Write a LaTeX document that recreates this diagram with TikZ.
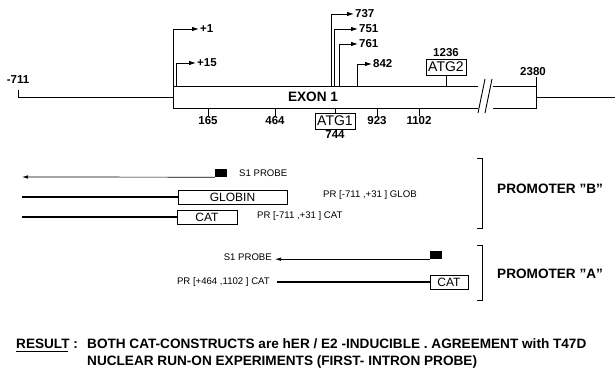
\documentclass[tikz,border=0pt]{standalone}
\usepackage{fontspec}
\setmainfont{Liberation Sans}
\usetikzlibrary{arrows.meta,positioning}

\begin{document}
\begin{tikzpicture}[
  x=1pt, y=-1pt,
  num/.style={font=\bfseries\fontsize{11.5}{12}\selectfont, inner sep=1pt},
  head/.style={font=\bfseries\fontsize{13.6}{14}\selectfont, inner sep=0pt, anchor=west},
  txt/.style={font=\fontsize{9.6}{10}\selectfont, inner sep=0pt},
  gene/.style={draw, line width=0.9pt, font=\fontsize{12}{12}\selectfont, inner sep=0pt, minimum height=14pt},
  atg/.style={gene, font=\fontsize{14}{14}\selectfont, minimum width=40pt, minimum height=16pt},
  probebox/.style={fill=black, minimum width=12pt, minimum height=8pt, inner sep=0pt},
  tss/.style={-{Latex[length=7pt,width=4.5pt]}, line width=0.9pt},
  probe/.style={-{Latex[length=6pt,width=3.5pt]}, line width=0.7pt},
  construct/.style={line width=2.8pt},
  tick/.style={line width=0.9pt}
]
\useasboundingbox (0,0) rectangle (615,371);

\coordinate (exontop) at (0,86);
\coordinate (exonbot) at (0,108);
\coordinate (start) at (18,97);
\coordinate (exonL) at (173,97);
\coordinate (exonR) at (536,97);
\coordinate (finish) at (615,97);

\node[num] (m711) at (18,80) {-711};
\draw[tick, shorten <=5pt] (m711.south) -- (start) -- (exonL);
\draw[tick] (173,86) -- (478,86) (173,108) -- (478,108) (173,86) -- (173,108);
\draw[tick] (493,86) -- (536,86) -- (536,108) -- (493,108);
\draw[tick] (478,113) -- (485,79) (485,113) -- (492,79);
\draw[tick] (exonR) -- (finish);
\node[head, anchor=center] (exon) at (313,97) {EXON 1};

\coordinate (t1) at (173,86);
\coordinate (t15) at (176,86);
\coordinate (t737) at (331,86);
\coordinate (t751) at (334,86);
\coordinate (t761) at (339,86);
\coordinate (t842) at (357,86);
\node[num, anchor=west] (p1) at (199,29) {+1};
\node[num, anchor=west] (p15) at (196,63) {+15};
\node[num, anchor=west] (p737) at (354,14) {737};
\node[num, anchor=west] (p751) at (358,29) {751};
\node[num, anchor=west] (p761) at (358,44) {761};
\node[num, anchor=west] (p842) at (372,64) {842};
\draw[tss] (t1) |- (p1);
\draw[tss] (t15) |- (p15);
\draw[tss] (t737) |- (p737);
\draw[tss] (t751) |- (p751);
\draw[tss] (t761) |- (p761);
\draw[tss] (t842) |- (p842);

\node[num] (n165) at (208,121) {165};
\node[num] (n464) at (275,121) {464};
\node[num] (n923) at (377,121) {923};
\node[num] (n1102) at (419,121) {1102};
\draw[tick] (n165.north |- exonbot) -- (n165.north);
\draw[tick] (n464.north |- exonbot) -- (n464.north);
\draw[tick] (n923.north |- exonbot) -- (n923.north);
\draw[tick] (n1102.north |- exonbot) -- (n1102.north);

\node[atg] (atg1) at (335,121) {ATG1};
\node[num, below=0pt of atg1] (n744) {744};
\draw[tick] (atg1.north |- exonbot) -- (atg1);
\node[atg] (atg2) at (446,67) {ATG2};
\node[num, above=1pt of atg2] (n1236) {1236};
\draw[tick] (atg2) -- (atg2.south |- exontop);
\node[num] (n2380) at (533,72) {2380};
\draw[tick] (exonR |- n2380.south) -- (exonR |- exontop);

\node[probebox] (probeB) at (221,173) {};
\node[txt, anchor=west] (s1B) at (239,173) {S1 PROBE};
\coordinate (endB) at (22,177);
\draw[probe] (probeB.south west) -- (endB);
\node[gene, minimum width=109pt] (globin) at (232.5,197) {GLOBIN};
\coordinate (startG) at (22,197);
\draw[construct] (startG) -- (globin);
\node[txt, anchor=west] (prglob) at (323,195) {PR [-711 ,+31 ] GLOB};
\node[gene, minimum width=60pt] (catB) at (207,217) {CAT};
\coordinate (startC) at (22,217);
\draw[construct] (startC) -- (catB);
\node[txt, anchor=west] (prcat) at (257,216) {PR [-711 ,+31 ] CAT};
\draw[tick] (477,158) -- (482,158) -- (482,228) -- (477,228);
\node[head] (promB) at (497,189) {PROMOTER "B"};

\node[probebox] (probeA) at (436,255) {};
\node[txt, anchor=east] (s1A) at (272,257) {S1 PROBE};
\draw[probe, shorten >=3pt] (probeA.south west) -- (probeA.south west -| s1A.east);
\node[gene, minimum width=38pt] (catA) at (449,282) {CAT};
\node[txt, anchor=east] (prA) at (270,282) {PR [+464 ,1102 ] CAT};
\draw[construct, shorten <=7pt] (prA) -- (catA);
\draw[tick] (477,245) -- (482,245) -- (482,300) -- (477,300);
\node[head] (promA) at (497,274) {PROMOTER "A"};

\node[head] (result) at (16,344) {RESULT :};
\draw[line width=0.8pt] ([yshift=-2.5pt]result.south west) -- ++(52,0);
\node[head] (line1) at (87,344) {BOTH CAT-CONSTRUCTS are hER / E2 -INDUCIBLE . AGREEMENT with T47D};
\node[head] (line2) at (87,362) {NUCLEAR RUN-ON EXPERIMENTS (FIRST- INTRON PROBE)};
\end{tikzpicture}
\end{document}
